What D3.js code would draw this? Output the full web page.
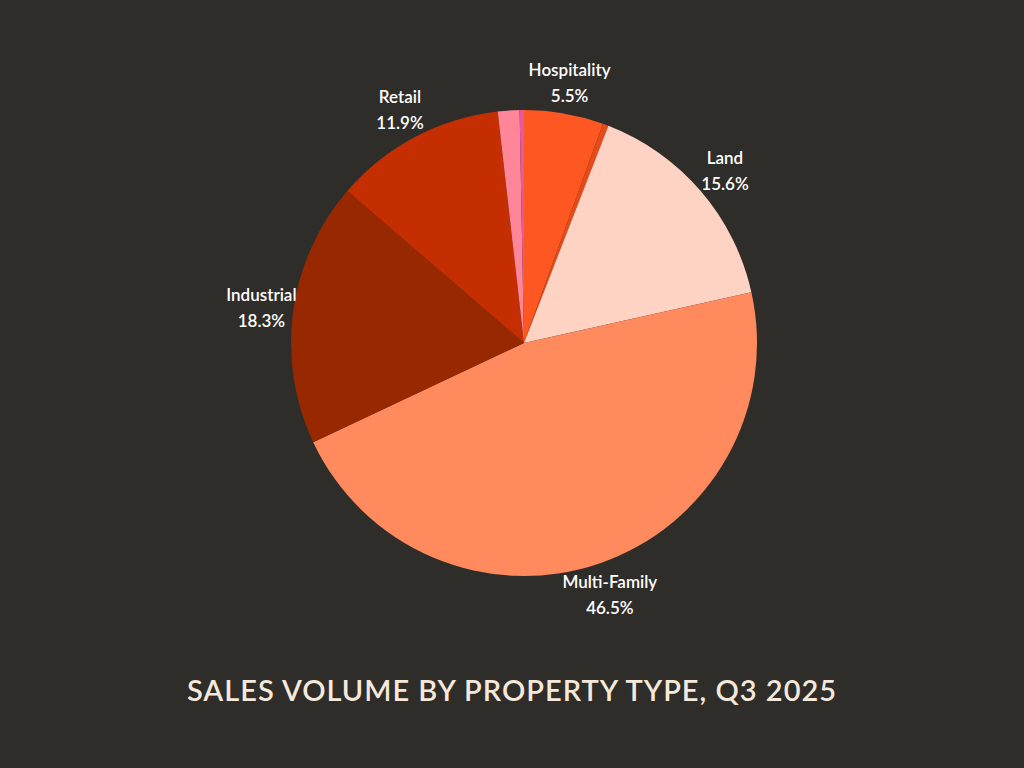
<!DOCTYPE html>
<html>
<head>
<meta charset="utf-8">
<script src="https://cdn.jsdelivr.net/npm/d3@7"></script>
<style>
  body { margin: 0; background: #2f2d2a; }
</style>
</head>
<body>
<script>
var width = 1024, height = 768;

// data, clockwise from 12 o'clock
var categories = ["Hospitality", "Office", "Land", "Multi-Family", "Industrial", "Retail", "Mixed-Use", "Other"];
var values = [5.5, 0.4, 15.6, 46.5, 18.3, 11.9, 1.5, 0.3];
var labelled = ["Hospitality", "Land", "Multi-Family", "Industrial", "Retail"];
var colors = ["#ff5722", "#e64a19", "#ffd3c3", "#ff8a5e", "#982800", "#c42e00", "#ff8599", "#e65a9a"];

var cx = 524, cy = 343, radius = 233;

var svg = d3.select("body").append("svg")
  .attr("width", width)
  .attr("height", height);

svg.append("rect").attr("width", width).attr("height", height).attr("fill", "#2f2d2a");

var color = d3.scaleOrdinal().domain(categories).range(colors);

var pie = d3.pie().sort(null).value(function(d, i) { return values[i]; });
var arcs = pie(categories);

var arc = d3.arc().innerRadius(0).outerRadius(radius);
var labelArc = d3.arc().innerRadius(265).outerRadius(265);

var g = svg.append("g").attr("transform", "translate(" + cx + "," + cy + ")");

g.selectAll("path")
  .data(arcs)
  .enter()
  .append("path")
  .attr("d", arc)
  .attr("fill", function(d) { return color(d.data); });

var lbl = g.selectAll(".lbl")
  .data(arcs.filter(function(d) { return labelled.indexOf(d.data) >= 0; }))
  .enter()
  .append("text")
  .attr("class", "lbl")
  .attr("text-anchor", "middle")
  .attr("fill", "#ffffff")
  .style("font-family", "Lato, sans-serif")
  .style("font-weight", "600")
  .style("font-size", "17px")
  .attr("transform", function(d) {
    var c = labelArc.centroid(d);
    return "translate(" + c[0] + "," + c[1] + ")";
  });

lbl.append("tspan").attr("x", 0).attr("y", -6).text(function(d) { return d.data; });
lbl.append("tspan").attr("x", 0).attr("y", 20).text(function(d) { return d.value.toFixed(1) + "%"; });

svg.append("text")
  .attr("x", width / 2)
  .attr("y", 701)
  .attr("text-anchor", "middle")
  .attr("fill", "#f6e9dc")
  .style("font-family", "Lato, sans-serif")
  .style("font-weight", "600")
  .style("font-size", "29px")
  .style("letter-spacing", "1px")
  .text("SALES VOLUME BY PROPERTY TYPE, Q3 2025");
</script>
</body>
</html>
